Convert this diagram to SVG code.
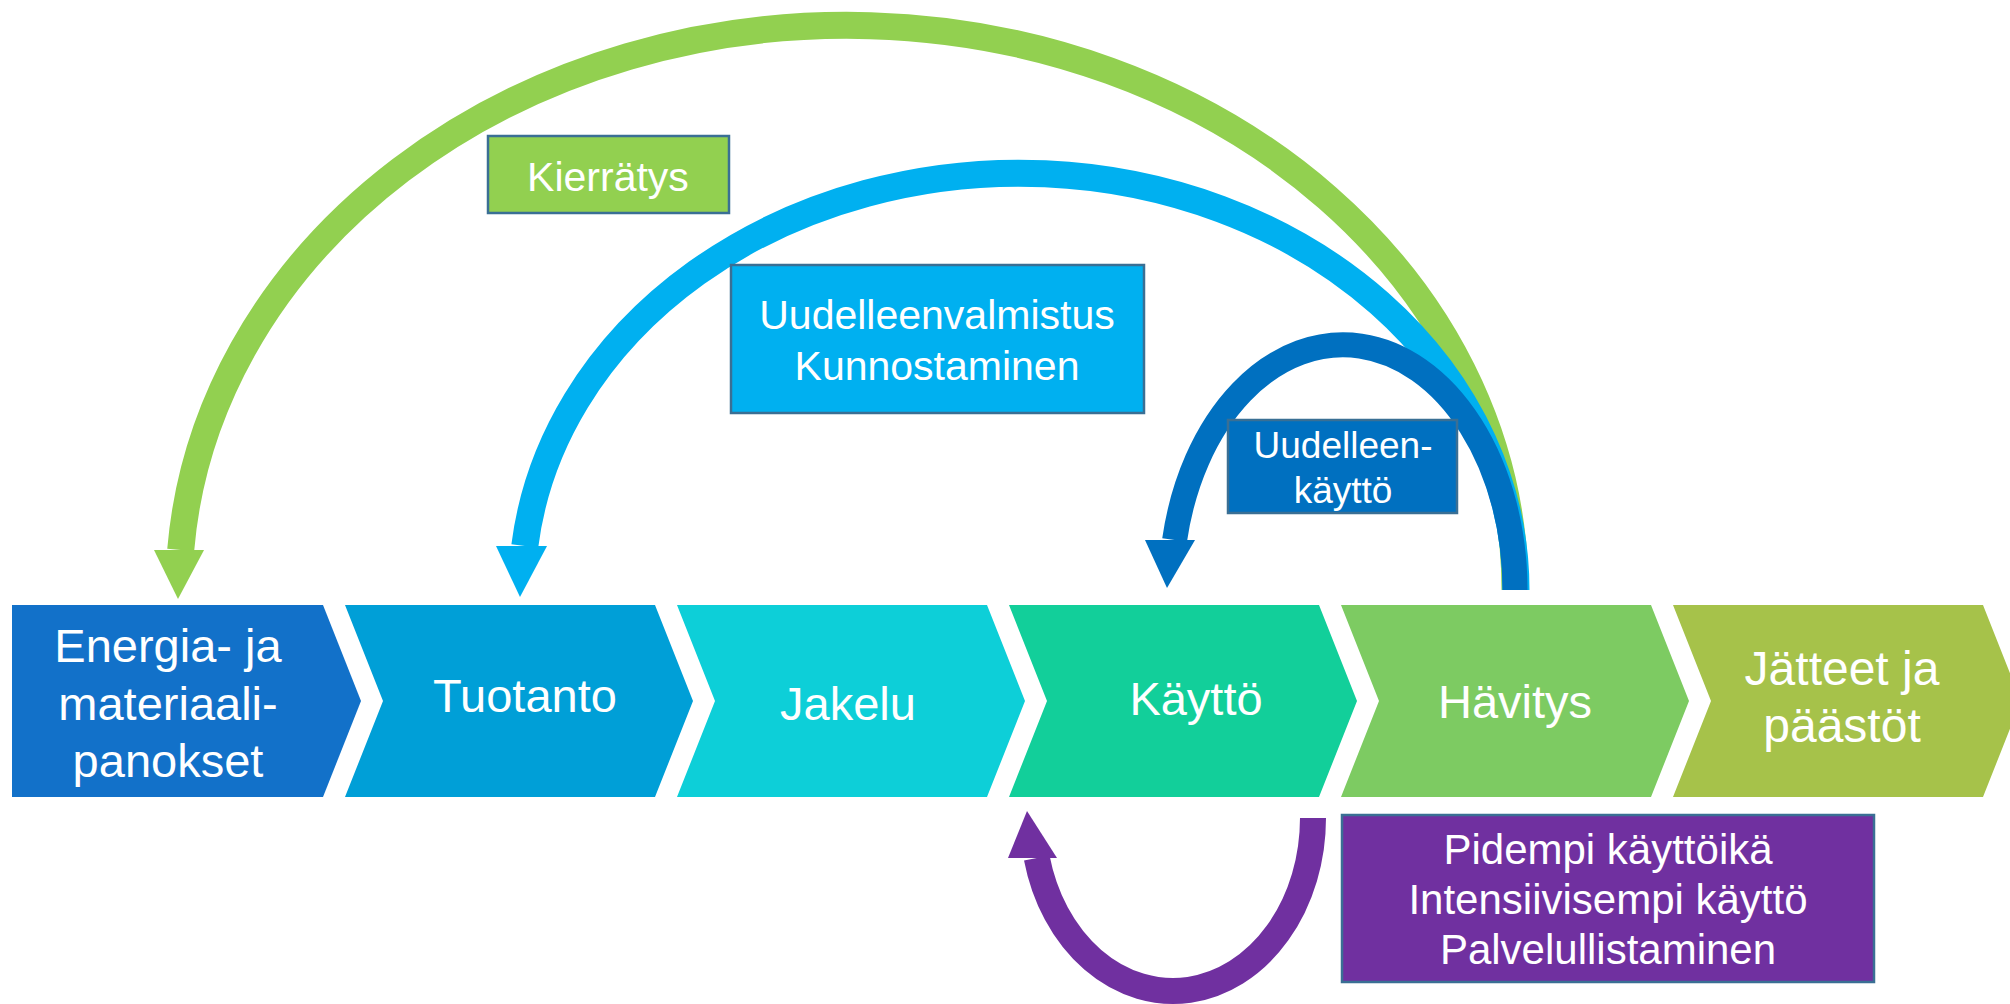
<svg xmlns="http://www.w3.org/2000/svg" width="2010" height="1004" viewBox="0 0 2010 1004">
<style>
text{font-family:"Liberation Sans",Arial,sans-serif;fill:#fff;text-anchor:middle}
.chev text{font-size:47px}
.box{stroke:#3A6F94;stroke-width:2.5}
.arc{fill:none;stroke-linecap:butt}
</style>
<rect width="2010" height="1004" fill="#fff"/>
<g id="chevrons" class="chev">
<g id="n1"><polygon points="12,605 323,605 361,701 323,797 12,797" fill="#1271C9"/>
<text x="168" y="662">Energia- ja</text><text x="168" y="720">materiaali-</text><text x="168" y="777">panokset</text></g>
<g id="n2"><polygon points="345,605 655,605 693,701 655,797 345,797 383,701" fill="#009FD7"/>
<text x="525" y="712">Tuotanto</text></g>
<g id="n3"><polygon points="677,605 987,605 1025,701 987,797 677,797 715,701" fill="#0DCFD8"/>
<text x="848" y="720">Jakelu</text></g>
<g id="n4"><polygon points="1009,605 1319,605 1357,701 1319,797 1009,797 1047,701" fill="#12CF9A"/>
<text x="1196" y="715">Käyttö</text></g>
<g id="n5"><polygon points="1341,605 1651,605 1689,701 1651,797 1341,797 1379,701" fill="#7DCB62"/>
<text x="1515" y="718">Hävitys</text></g>
<g id="n6"><polygon points="1673,605 1983,605 2021,701 1983,797 1673,797 1711,701" fill="#A6C24A"/>
<text x="1842" y="685" style="font-size:48px">Jätteet ja</text><text x="1842" y="742" style="font-size:48px">päästöt</text></g>
</g>
<g id="connectors">
<path class="arc" d="M180.7 550 A668 565 0 0 1 1515 590" stroke="#92D050" stroke-width="27"/>
<polygon points="154,550 204,550 178,599" fill="#92D050"/>
<path class="arc" d="M524.8 546 A497 417 0 0 1 1516 590" stroke="#00B0F0" stroke-width="27"/>
<polygon points="496,546 547,546 520,597" fill="#00B0F0"/>
<path class="arc" d="M1174.6 540 A172 245 0 0 1 1515 590" stroke="#0070C0" stroke-width="25"/>
<polygon points="1145,540 1195,540 1167,588" fill="#0070C0"/>
<path class="arc" d="M1313 818 A140 173 0 0 1 1036.8 858" stroke="#7030A0" stroke-width="26"/>
<polygon points="1008,858 1057,858 1027,811" fill="#7030A0"/>
</g>
<g id="kierratys"><rect class="box" x="488" y="136" width="241" height="77" fill="#92D050"/>
<text x="608" y="191" style="font-size:41px">Kierrätys</text></g>
<g id="uudelleenvalmistus"><rect class="box" x="731" y="265" width="413" height="148" fill="#00B0F0"/>
<text x="937" y="329" style="font-size:41px">Uudelleenvalmistus</text><text x="937" y="380" style="font-size:41px">Kunnostaminen</text></g>
<g id="uudelleenkaytto"><rect class="box" x="1228" y="420" width="229" height="93" fill="#0070C0"/>
<text x="1343" y="458" style="font-size:37px">Uudelleen-</text><text x="1343" y="503" style="font-size:37px">käyttö</text></g>
<g id="pidempi"><rect class="box" x="1342" y="815" width="532" height="167" fill="#7030A0"/>
<text x="1608" y="864" style="font-size:42px">Pidempi käyttöikä</text><text x="1608" y="914" style="font-size:42px">Intensiivisempi käyttö</text><text x="1608" y="964" style="font-size:42px">Palvelullistaminen</text></g>
</svg>
